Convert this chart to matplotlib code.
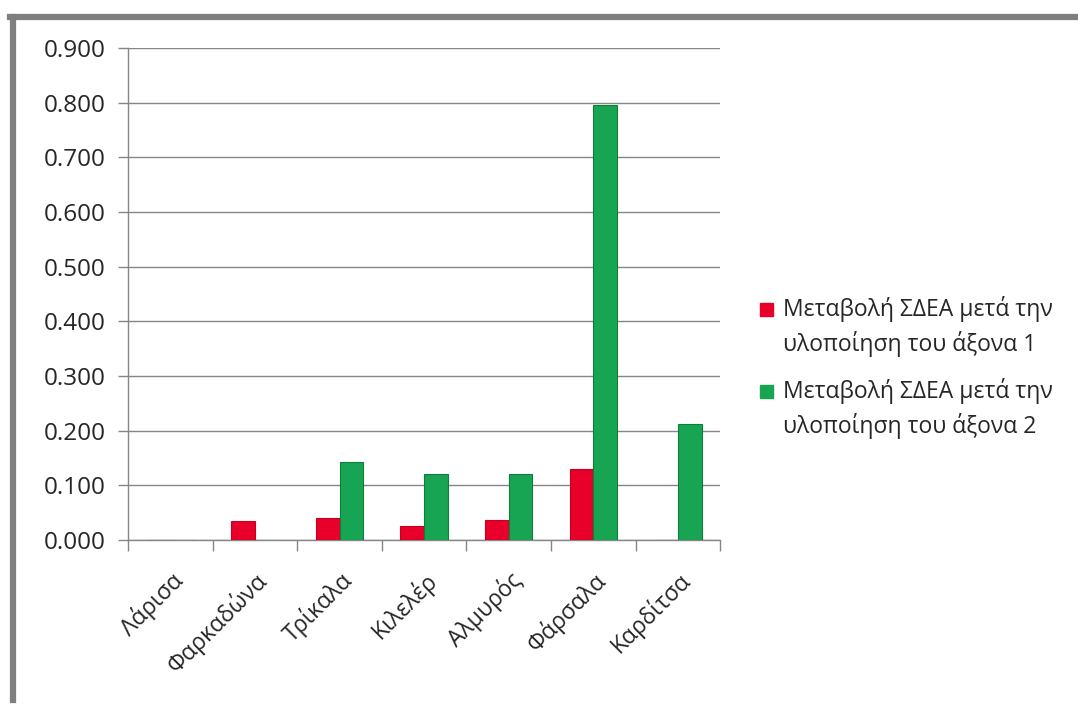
import matplotlib.pyplot as plt
import numpy as np
from matplotlib.lines import Line2D
from matplotlib.patches import Rectangle
import matplotlib.ticker as mtick

plt.rcParams['font.family'] = ['Open Sans', 'DejaVu Sans']

poleis = [u'Λάρισα', u'Φαρκαδώνα', u'Τρίκαλα', u'Κιλελέρ', u'Αλμυρός', u'Φάρσαλα', u'Καρδίτσα']
axonas_1 = [0.0, 0.034, 0.040, 0.026, 0.037, 0.129, 0.0]
axonas_2 = [0.0, 0.0, 0.142, 0.121, 0.121, 0.795, 0.212]
lbl_1 = u'Μεταβολή ΣΔΕΑ μετά την\nυλοποίηση του άξονα 1'
lbl_2 = u'Μεταβολή ΣΔΕΑ μετά την\nυλοποίηση του άξονα 2'

x = np.arange(len(poleis))
width = 0.28
grey = '#868686'
txt = '#262626'
red, green = '#e8002a', '#17a553'

fig = plt.figure(figsize=(10.78, 7.07), dpi=100)
ax = fig.add_axes([0.1187, 0.2362, 0.5495, 0.6958])

ax.bar(x - width / 2, axonas_1, width, color=red, edgecolor='#c4001f',
       linewidth=0.8, zorder=3)
ax.bar(x + width / 2, axonas_2, width, color=green, edgecolor='#0d7f3c',
       linewidth=0.8, zorder=3)

ax.set_xlim(-0.5, len(poleis) - 0.5)
ax.set_ylim(0, 0.9)
ax.yaxis.set_major_locator(mtick.MultipleLocator(0.1))
ax.yaxis.set_major_formatter(mtick.FormatStrFormatter('%.3f'))
ax.grid(axis='y', color=grey, linewidth=1.0, zorder=0)

# category labels in the middle, tick marks on the boundaries
ax.set_xticks(np.arange(len(poleis) + 1) - 0.5)
ax.set_xticklabels([])
ax.set_xticks(x, minor=True)
ax.set_xticklabels(poleis, minor=True, rotation=45, ha='right',
                   rotation_mode='anchor', fontsize=16.5, color=txt)
ax.tick_params(axis='x', which='minor', length=0, pad=20)
ax.tick_params(axis='x', which='major', length=8, color=grey, width=1)
ax.tick_params(axis='y', length=7, color=grey, width=1, labelsize=17.5,
               labelcolor=txt, pad=9)

for s in ['top', 'right']:
    ax.spines[s].set_visible(False)
for s in ['left', 'bottom']:
    ax.spines[s].set_color(grey)
    ax.spines[s].set_linewidth(1.0)

# legend: square marker next to the first line of each label
for i, (lbl, col) in enumerate([(lbl_1, red), (lbl_2, green)]):
    y_top = 1 - (296 + i * 82) / 707.0
    fig.patches.append(Rectangle((760 / 1078.0, y_top - 20 / 707.0), 13 / 1078.0, 13 / 707.0,
                                 color=col, transform=fig.transFigure, figure=fig))
    fig.text(783 / 1078.0, y_top, lbl, fontsize=16.5, color=txt, va='top', ha='left',
             linespacing=1.45)

# grey frame on top and left side
fig.add_artist(Line2D([0.009, 1.0], [0.976, 0.976], color='#7f7f7f', linewidth=4.5,
                      transform=fig.transFigure))
fig.add_artist(Line2D([0.012, 0.012], [0.01, 0.976], color='#7f7f7f', linewidth=4.5,
                      transform=fig.transFigure))

plt.savefig('out.png', dpi=100)
